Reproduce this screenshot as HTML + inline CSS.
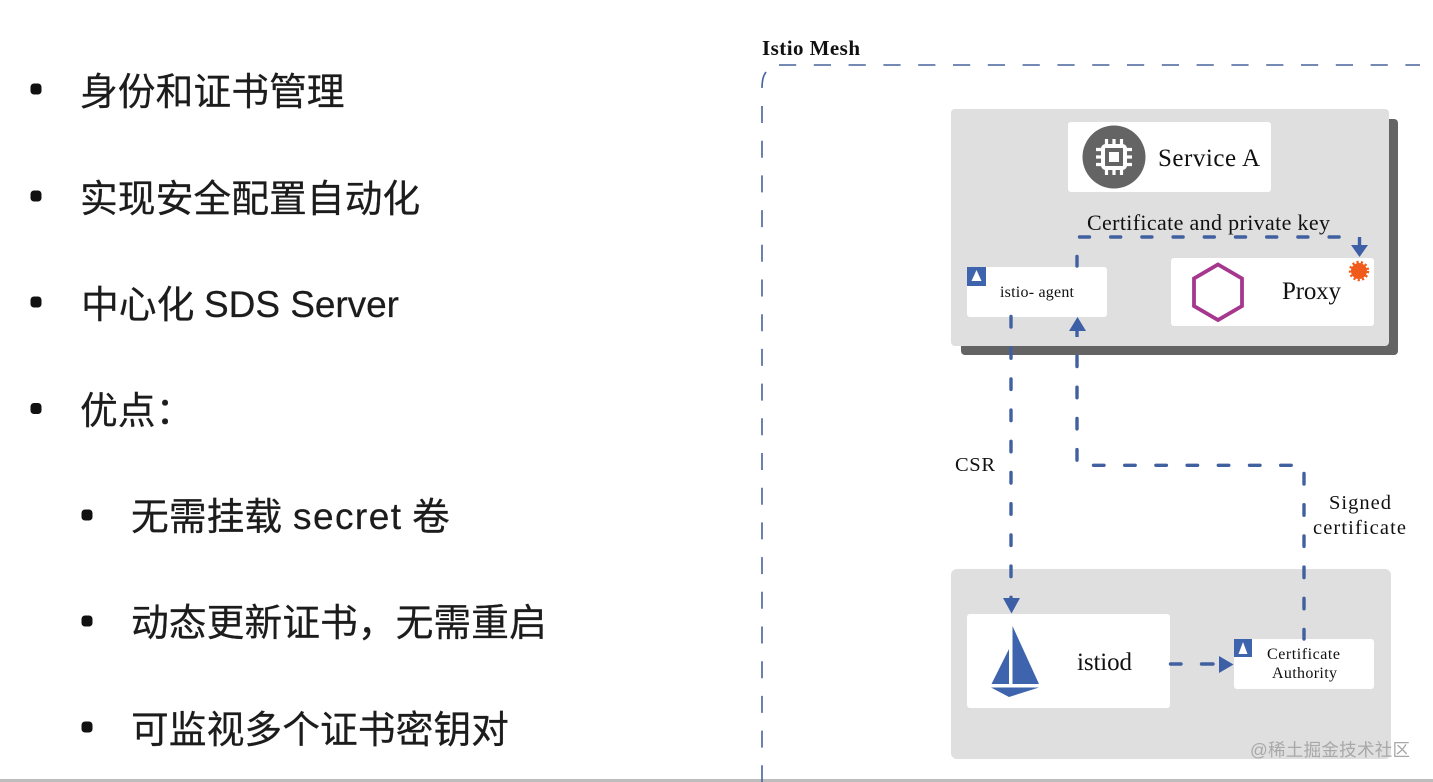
<!DOCTYPE html>
<html lang="zh">
<head>
<meta charset="utf-8">
<style>
html,body{margin:0;padding:0;background:#fff}
body{width:1433px;height:782px;overflow:hidden;position:relative}
svg{position:absolute;left:0;top:0}
</style>
</head>
<body>
<svg width="1433" height="782" viewBox="0 0 1433 782" xmlns="http://www.w3.org/2000/svg">
<rect width="1433" height="782" fill="#fff"/>
<rect x="0" y="779" width="1433" height="3" fill="#bdbdbd"/>

<!-- Left list -->
<g fill="#111">
<rect x="30.5" y="83.5" width="11" height="11" rx="3.5"/>
<rect x="30.5" y="190.5" width="11" height="11" rx="3.5"/>
<rect x="30.5" y="296.5" width="11" height="11" rx="3.5"/>
<rect x="30.5" y="403" width="11" height="11" rx="3.5"/>
<rect x="81.5" y="509.5" width="11" height="11" rx="3.5"/>
<rect x="81.5" y="615.5" width="11" height="11" rx="3.5"/>
<rect x="81.5" y="721.5" width="11" height="11" rx="3.5"/>
</g>
<g font-family="'Noto Sans CJK SC',sans-serif" font-size="37.8" fill="#1c1c1c" stroke="#1c1c1c" stroke-width="0.25">
<text x="80" y="105">身份和证书管理</text>
<text x="80" y="212">实现安全配置自动化</text>
<text x="81" y="318">中心化</text>
<text x="204" y="317" font-family="'Liberation Sans',sans-serif" font-size="37" textLength="195" lengthAdjust="spacing">SDS Server</text>
<text x="80" y="424">优点：</text>
<text x="131" y="530">无需挂载</text>
<text x="293" y="529" font-family="'Liberation Sans',sans-serif" font-size="37" textLength="108" lengthAdjust="spacing">secret</text>
<text x="412" y="530">卷</text>
<text x="131" y="636">动态更新证书，无需重启</text>
<text x="131" y="743">可监视多个证书密钥对</text>
</g>

<!-- Mesh border -->
<g fill="none" stroke="#46639b" stroke-width="1.6">
<path d="M779 65 H1420" stroke-dasharray="17.2 17.6"/>
<path d="M766 72 Q762 77 762 88"/>
<path d="M762 106 V782" stroke-dasharray="17 17.7"/>
</g>
<text x="762" y="55" font-family="'Liberation Serif',serif" font-weight="bold" font-size="21" fill="#111" textLength="98" lengthAdjust="spacing">Istio Mesh</text>

<!-- Service A box -->
<rect x="961" y="119" width="437" height="236" rx="4" fill="#646464"/>
<rect x="951" y="109" width="438" height="237" rx="4" fill="#dfdfdf"/>
<rect x="1068" y="122" width="203" height="70" rx="3" fill="#fff"/>
<circle cx="1114" cy="157" r="31.5" fill="#646464"/>
<rect x="1103" y="146" width="22" height="22" rx="2.5" fill="none" stroke="#fff" stroke-width="4"/>
<rect x="1109" y="152" width="10" height="10" fill="#fff"/>
<path d="M1106.5 139v6M1114 139v6M1121.5 139v6M1106.5 169v6M1114 169v6M1121.5 169v6M1096 149.5h6M1096 157h6M1096 164.5h6M1126 149.5h6M1126 157h6M1126 164.5h6" fill="none" stroke="#fff" stroke-width="3.2"/>
<text x="1158" y="166" font-family="'Liberation Serif',serif" font-size="25" fill="#111" textLength="102" lengthAdjust="spacing">Service A</text>
<text x="1087" y="230" font-family="'Liberation Serif',serif" font-size="22" fill="#111" textLength="243" lengthAdjust="spacing">Certificate and  private key</text>

<!-- istio-agent -->
<rect x="967" y="267" width="140" height="50" rx="3" fill="#fff"/>
<rect x="967" y="267" width="19" height="19" fill="#3d64ad"/>
<path d="M976.5 270 L981.5 281 H971.5 Z" fill="#fff"/>
<text x="1000" y="297" font-family="'Liberation Serif',serif" font-size="16" fill="#111" textLength="74" lengthAdjust="spacing">istio- agent</text>

<!-- Proxy -->
<rect x="1171" y="258" width="203" height="68" rx="3" fill="#fff"/>
<path d="M1218 264.5 L1242 278.5 V306 L1218 320 L1194 306 V278.5 Z" fill="none" stroke="#a6378f" stroke-width="3.8"/>
<text x="1282" y="299" font-family="'Liberation Serif',serif" font-size="25" fill="#111" textLength="59" lengthAdjust="spacing">Proxy</text>
<circle cx="1359" cy="271" r="8" fill="#f05a1a"/>
<circle cx="1359" cy="271" r="9" fill="none" stroke="#f05a1a" stroke-width="2.4" stroke-dasharray="2.2 2.2"/>

<!-- Lower box -->
<rect x="951" y="569" width="440" height="190" rx="6" fill="#dfdfdf"/>
<rect x="967" y="614" width="203" height="94" rx="3" fill="#fff"/>
<g fill="#3d64ad">
<path d="M1012.5 626 L1039 684 H1012.5 Z"/>
<path d="M1009 649 V684 H991.5 Z"/>
<path d="M991 687.5 H1039 L1009 697 Z"/>
</g>
<text x="1077" y="670" font-family="'Liberation Serif',serif" font-size="25" fill="#111" textLength="55" lengthAdjust="spacing">istiod</text>

<rect x="1234" y="639" width="140" height="50" rx="3" fill="#fff"/>
<rect x="1234" y="639" width="18" height="18" fill="#3d64ad"/>
<path d="M1243 642 L1247.5 654 H1238.5 Z" fill="#fff"/>
<text x="1267" y="659" font-family="'Liberation Serif',serif" font-size="16" fill="#111" textLength="73" lengthAdjust="spacing">Certificate</text>
<text x="1272" y="678" font-family="'Liberation Serif',serif" font-size="16" fill="#111" textLength="65" lengthAdjust="spacing">Authority</text>

<!-- Connectors -->
<g fill="none" stroke="#41609f" stroke-width="3.4" stroke-linecap="round">
<path d="M1079.5 237 H1340" stroke-dasharray="10 21.2"/>
<path d="M1077 256.5 V266"/>
<path d="M1011 316.5 V600" stroke-dasharray="10.5 20.7"/>
<path d="M1077 356 V464" stroke-dasharray="10.5 20.7"/>
<path d="M1093.5 465.3 H1292" stroke-dasharray="10.5 20.7"/>
<path d="M1304 473.5 V639" stroke-dasharray="10.5 20.7"/>
<path d="M1170.5 664 H1181 M1201.5 664 H1213"/>
</g>
<g fill="#3d5fa5">
<path d="M1351 245 H1368 L1359.5 257 Z"/>
<rect x="1357.8" y="237" width="3.4" height="9"/>
<path d="M1069 331 H1086 L1077.5 317 Z"/>
<rect x="1075.3" y="330" width="3.4" height="7"/>
<path d="M1003 598 H1020 L1011.5 613.5 Z"/>
<path d="M1219 656 L1233.5 664.5 L1219 673 Z"/>
</g>

<text x="955" y="471" font-family="'Liberation Serif',serif" font-size="20.5" fill="#111" textLength="40" lengthAdjust="spacing">CSR</text>
<text x="1329" y="509" font-family="'Liberation Serif',serif" font-size="20.5" fill="#111" textLength="62" lengthAdjust="spacing">Signed</text>
<text x="1313" y="534" font-family="'Liberation Serif',serif" font-size="20.5" fill="#111" textLength="93" lengthAdjust="spacing">certificate</text>

<text x="1250" y="756" font-family="'Liberation Sans','Noto Sans CJK SC',sans-serif" font-size="17.5" fill="#a8a8a8" textLength="160" lengthAdjust="spacing">@稀土掘金技术社区</text>
</svg>
</body>
</html>
